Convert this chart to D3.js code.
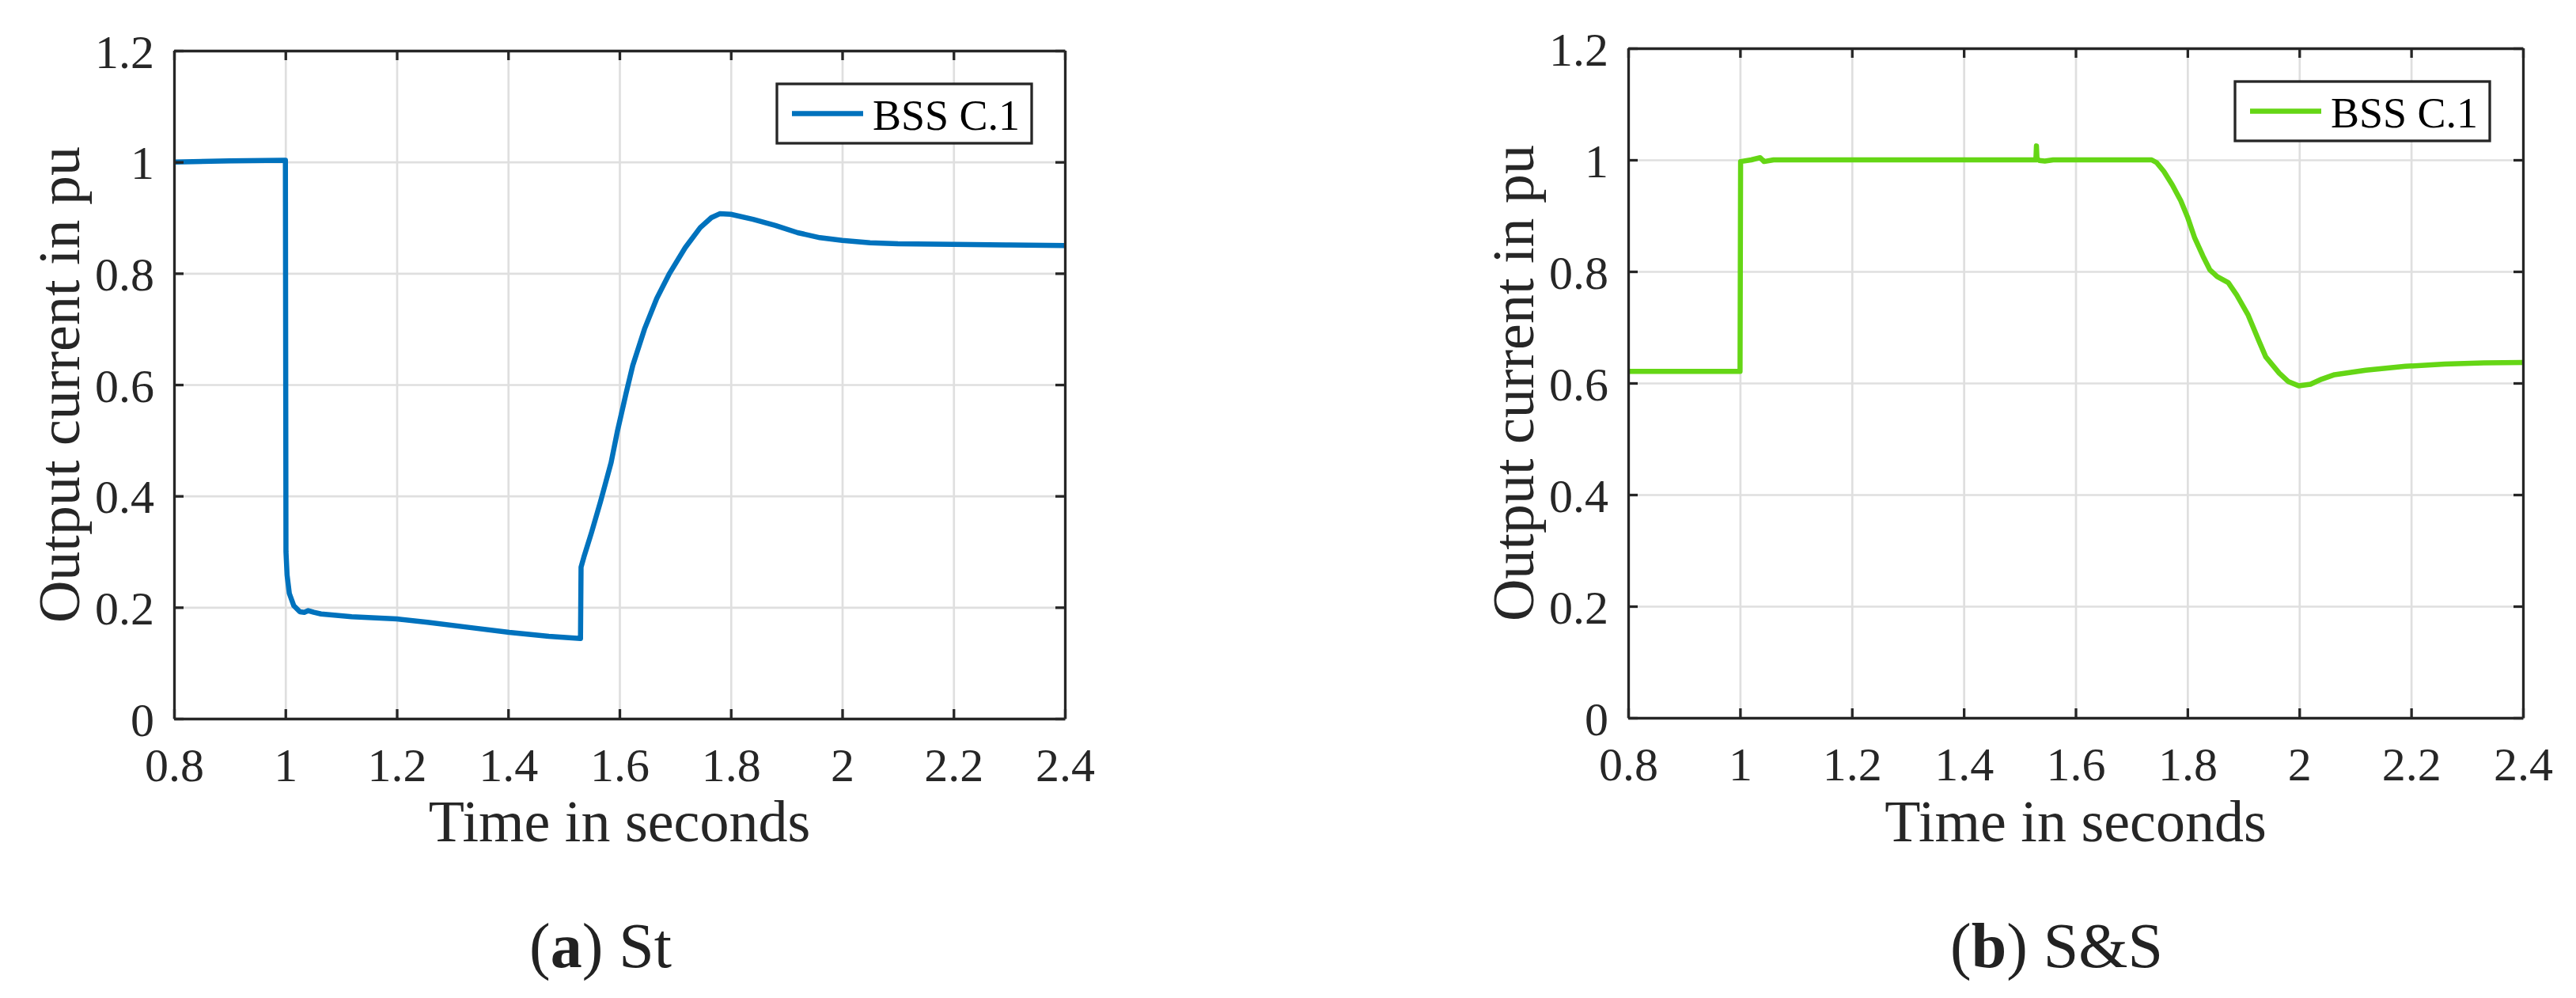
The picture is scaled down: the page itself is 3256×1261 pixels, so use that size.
<!DOCTYPE html>
<html>
<head>
<meta charset="utf-8">
<script src="https://cdn.jsdelivr.net/npm/d3@7"></script>
<style>
  body { margin: 0; background: #fff; }
  text { font-family: "Liberation Serif", "DejaVu Serif", serif; fill: #262626; }
</style>
</head>
<body>
<script>
// tick values shared by both panels
var xTicks = [0.8, 1, 1.2, 1.4, 1.6, 1.8, 2, 2.2, 2.4];
var yTicks = [0, 0.2, 0.4, 0.6, 0.8, 1, 1.2];

// (a) St
var stTime = [0.8, 0.9, 0.999, 1.0, 1.001, 1.003, 1.007, 1.015, 1.026, 1.034, 1.041, 1.051, 1.064,
  1.119, 1.2, 1.255, 1.337, 1.402, 1.473, 1.530, 1.531, 1.536, 1.55, 1.566, 1.585, 1.596, 1.612,
  1.624, 1.645, 1.667, 1.69, 1.718, 1.745, 1.765, 1.78, 1.80, 1.84, 1.88, 1.92, 1.96, 2.0, 2.05,
  2.1, 2.2, 2.3, 2.4];
var stCurrent = [1.0, 1.002, 1.003, 1.003, 0.30, 0.258, 0.225, 0.203, 0.192, 0.191, 0.194, 0.191, 0.188,
  0.183, 0.179, 0.173, 0.163, 0.155, 0.148, 0.144, 0.272, 0.29, 0.335, 0.39, 0.46, 0.515, 0.585,
  0.635, 0.70, 0.755, 0.80, 0.846, 0.882, 0.900, 0.907, 0.906, 0.897, 0.886, 0.873, 0.864, 0.859, 0.855,
  0.853, 0.852, 0.851, 0.850];

// (b) S&S
var ssTime = [0.8, 0.999, 1.0, 1.001, 1.02, 1.036, 1.043, 1.06, 1.3, 1.529, 1.530, 1.531, 1.535,
  1.545, 1.56, 1.736, 1.745, 1.758, 1.773, 1.788, 1.80, 1.813, 1.828, 1.840, 1.853, 1.873, 1.888,
  1.908, 1.928, 1.94, 1.964, 1.98, 1.999, 2.02, 2.04, 2.063, 2.119, 2.19, 2.26, 2.33, 2.4];
var ssCurrent = [0.621, 0.621, 0.621, 0.997, 1.0, 1.004, 0.997, 1.0, 1.0, 1.0, 1.025, 1.002, 0.999,
  0.998, 1.0, 1.0, 0.995, 0.979, 0.955, 0.927, 0.898, 0.860, 0.827, 0.803, 0.791, 0.780, 0.758,
  0.723, 0.675, 0.647, 0.618, 0.603, 0.595, 0.598, 0.607, 0.615, 0.623, 0.630, 0.634, 0.636, 0.637];

var seriesName = "BSS C.1";
var xLabel = "Time in seconds";
var yLabel = "Output current in pu";

var panels = [
  {left: 220, top: 64, right: 1346, bottom: 908, time: stTime, current: stCurrent,
   color: "#0072bd", tag: "a", name: " St"},
  {left: 2058, top: 61, right: 3189, bottom: 907, time: ssTime, current: ssCurrent,
   color: "#65d615", tag: "b", name: " S&S"}
];

var svg = d3.select("body").append("svg")
    .attr("width", 3256)
    .attr("height", 1261);

svg.append("rect").attr("width", 3256).attr("height", 1261).attr("fill", "#fff");

panels.forEach(function(p) {
  var width = p.right - p.left,
      height = p.bottom - p.top;

  var x = d3.scaleLinear().domain([0.8, 2.4]).range([0, width]);
  var y = d3.scaleLinear().domain([0, 1.2]).range([height, 0]);

  var g = svg.append("g")
      .attr("transform", "translate(" + p.left + "," + p.top + ")");

  // grid
  g.append("g")
      .attr("transform", "translate(0," + height + ")")
      .call(d3.axisBottom(x).tickValues(xTicks).tickSize(-height).tickFormat(""))
      .call(function(s) { s.select(".domain").remove(); })
      .selectAll("line").attr("stroke", "#dfdfdf").attr("stroke-width", 2.7);
  g.append("g")
      .call(d3.axisLeft(y).tickValues(yTicks).tickSize(-width).tickFormat(""))
      .call(function(s) { s.select(".domain").remove(); })
      .selectAll("line").attr("stroke", "#dfdfdf").attr("stroke-width", 2.7);

  // data line
  var pts = p.time.map(function(t, i) { return [t, p.current[i]]; });
  g.append("path")
      .datum(pts)
      .attr("fill", "none")
      .attr("stroke", p.color)
      .attr("stroke-width", 6.5)
      .attr("stroke-linejoin", "round")
      .attr("d", d3.line()
        .x(function(d) { return x(d[0]); })
        .y(function(d) { return y(d[1]); }));

  // axes on all four sides, ticks pointing inward
  var xb = g.append("g")
      .attr("transform", "translate(0," + height + ")")
      .call(d3.axisBottom(x).tickValues(xTicks).tickSizeInner(-12).tickSizeOuter(0)
        .tickFormat(function(d) { return String(d); }));
  xb.selectAll("text")
      .attr("y", 79).attr("dy", 0)
      .style("font-size", "60px");

  var yl = g.append("g")
      .call(d3.axisLeft(y).tickValues(yTicks).tickSizeInner(-12).tickSizeOuter(0)
        .tickFormat(function(d) { return String(d); }));
  yl.selectAll("text")
      .attr("x", -25).attr("dy", "0.35em")
      .style("font-size", "60px");

  g.append("g")
      .call(d3.axisTop(x).tickValues(xTicks).tickSizeInner(-12).tickSizeOuter(0).tickFormat(""));
  g.append("g")
      .attr("transform", "translate(" + width + ",0)")
      .call(d3.axisRight(y).tickValues(yTicks).tickSizeInner(-12).tickSizeOuter(0).tickFormat(""));

  g.selectAll(".domain").attr("stroke", "#262626").attr("stroke-width", 3.3);
  g.selectAll(".tick line").filter(function() { return d3.select(this).attr("stroke") !== "#dfdfdf"; })
      .attr("stroke", "#262626").attr("stroke-width", 3.3);

  // axis titles
  g.append("text")
      .attr("x", width / 2)
      .attr("y", 1063 - p.top)
      .attr("text-anchor", "middle")
      .style("font-size", "74px")
      .text(xLabel);

  g.append("text")
      .attr("transform", "translate(-120," + (height / 2) + ") rotate(-90)")
      .attr("text-anchor", "middle")
      .style("font-size", "74px")
      .text(yLabel);

  // legend
  var lw = 322, lh = 75;
  var lg = g.append("g")
      .attr("transform", "translate(" + (width - 42 - lw) + ",42)");
  lg.append("rect")
      .attr("width", lw).attr("height", lh)
      .attr("fill", "#fff")
      .attr("stroke", "#262626").attr("stroke-width", 3.3);
  lg.append("line")
      .attr("x1", 19).attr("x2", 109)
      .attr("y1", lh / 2).attr("y2", lh / 2)
      .attr("stroke", p.color).attr("stroke-width", 6.5);
  lg.append("text")
      .attr("x", 121).attr("y", lh / 2 + 20)
      .style("font-size", "54px")
      .style("fill", "#000")
      .text(seriesName);

  // caption
  var cap = svg.append("text")
      .attr("x", (p.left + p.right) / 2 - 24)
      .attr("y", 1222)
      .attr("text-anchor", "middle")
      .style("font-size", "80px")
      .style("fill", "#222");
  cap.append("tspan").text("(");
  cap.append("tspan").style("font-weight", "bold").text(p.tag);
  cap.append("tspan").text(")" + p.name);
});
</script>
</body>
</html>
